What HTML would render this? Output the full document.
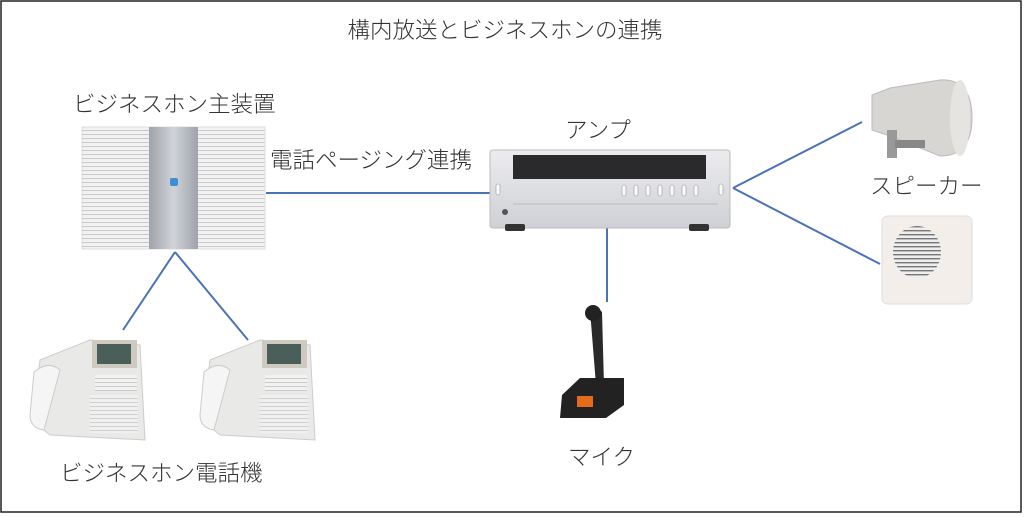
<!DOCTYPE html>
<html><head><meta charset="utf-8"><style>
html,body{margin:0;padding:0;background:#fff}
svg{display:block}
text{font-family:"Liberation Sans","Noto Sans CJK JP",sans-serif;fill:#333;font-weight:300}
</style></head><body>
<svg width="1024" height="517" viewBox="0 0 1024 517">
<defs>
<pattern id="grill" width="4" height="4" patternUnits="userSpaceOnUse"><rect width="4" height="4" fill="#f2f2f2"/><rect y="2" width="4" height="1" fill="#c9c9c9"/></pattern>
<pattern id="grill2" width="4" height="4" patternUnits="userSpaceOnUse"><rect width="4" height="4" fill="#eee"/><rect y="2" width="4" height="1.4" fill="#777"/></pattern>
<linearGradient id="silver" x1="0" x2="1"><stop offset="0" stop-color="#9ea3aa"/><stop offset=".5" stop-color="#d0d3d8"/><stop offset="1" stop-color="#9ea3aa"/></linearGradient>
<linearGradient id="amp" x1="0" y1="0" x2="0" y2="1"><stop offset="0" stop-color="#ececef"/><stop offset="1" stop-color="#cfd0d5"/></linearGradient>
</defs>
<rect x="1" y="1" width="1020" height="511" fill="#fff" stroke="#222" stroke-width="1.5"/>
<text x="505" y="38" font-size="22.5" text-anchor="middle">構内放送とビジネスホンの連携</text>
<text x="73" y="112" font-size="22.5">ビジネスホン主装置</text>
<text x="270" y="168" font-size="22.5">電話ページング連携</text>
<text x="565" y="138" font-size="22.5">アンプ</text>
<text x="870" y="194" font-size="22.5">スピーカー</text>
<text x="568" y="465" font-size="22.5">マイク</text>
<text x="60" y="481" font-size="22.5">ビジネスホン電話機</text>
<g stroke="#4a72b8" stroke-width="2" fill="none">
<line x1="266" y1="193" x2="490" y2="193"/>
<line x1="733" y1="188" x2="862" y2="122"/>
<line x1="733" y1="188" x2="880" y2="264"/>
<line x1="607" y1="228" x2="607" y2="302"/>
<line x1="175" y1="252" x2="123" y2="330"/>
<line x1="175" y1="252" x2="248" y2="340"/>
</g>
<rect x="82" y="127" width="183" height="122" fill="url(#grill)" stroke="#ddd"/>
<rect x="149" y="127" width="49" height="122" fill="url(#silver)"/>
<rect x="170" y="178" width="8" height="8" rx="2" fill="#3b8fd6"/>
<rect x="490" y="150" width="240" height="78" rx="3" fill="url(#amp)" stroke="#bbb"/>
<rect x="513" y="155" width="193" height="24" fill="#2a2a2c"/>
<g fill="#fafafa" stroke="#999" stroke-width=".6">
<rect x="622" y="185" width="4" height="11" rx="2"/><rect x="634" y="185" width="4" height="11" rx="2"/><rect x="646" y="185" width="4" height="11" rx="2"/><rect x="658" y="185" width="4" height="11" rx="2"/><rect x="670" y="185" width="4" height="11" rx="2"/><rect x="682" y="185" width="4" height="11" rx="2"/><rect x="694" y="185" width="4" height="11" rx="2"/><rect x="496" y="184" width="4" height="11" rx="2"/><rect x="719" y="184" width="4" height="11" rx="2"/>
</g>
<line x1="513" y1="204" x2="718" y2="204" stroke="#bbb"/>
<circle cx="505" cy="212" r="3" fill="#555"/>
<rect x="505" y="224" width="20" height="7" rx="2" fill="#333"/>
<rect x="689" y="224" width="20" height="7" rx="2" fill="#333"/>
<path d="M872 95 L890 88 L940 80 Q972 78 972 118 Q972 156 940 156 L890 136 L872 130 Z" fill="#d8d6d2" stroke="#bbb"/>
<ellipse cx="960" cy="118" rx="10" ry="38" fill="#e6e4e0"/>
<rect x="887" y="130" width="10" height="28" fill="#999"/>
<rect x="895" y="140" width="30" height="8" fill="#888"/>
<rect x="882" y="216" width="90" height="88" rx="6" fill="#f3eeea" stroke="#ddd"/>
<ellipse cx="917" cy="252" rx="24" ry="26" fill="url(#grill2)"/>
<path d="M590 310 Q596 306 602 312 L604 385 L596 385 Z" fill="#2a2a2a"/>
<ellipse cx="593" cy="313" rx="8" ry="8" fill="#222"/>
<path d="M562 395 L580 378 L624 378 L624 405 L606 418 L560 418 Z" fill="#222"/>
<rect x="577" y="396" width="16" height="11" fill="#e66a1c"/>
<g id="ph">
<path d="M40 360 L90 340 L140 345 L145 440 L50 435 L32 420 Z" fill="#e9e9e7" stroke="#ccc"/>
<rect x="92" y="340" width="45" height="28" fill="#cfcac0"/>
<rect x="97" y="344" width="34" height="20" fill="#4a5f5a"/>
<path d="M34 372 Q48 360 60 370 L44 430 Q30 428 30 415 Z" fill="#f5f5f5" stroke="#ccc"/>
<rect x="95" y="375" width="42" height="16" fill="url(#grill)"/>
<rect x="90" y="395" width="48" height="38" fill="url(#grill)" opacity=".8"/>
</g>
<use href="#ph" x="170"/>
</svg>
</body></html>
